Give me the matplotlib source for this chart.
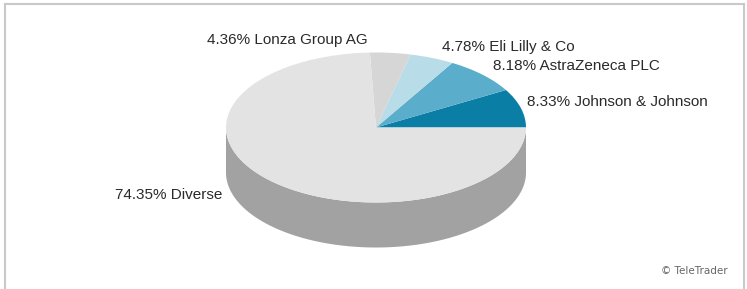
import numpy as np
import matplotlib
matplotlib.use("Agg")
import matplotlib.pyplot as plt
from matplotlib.lines import Line2D

# ---- data ----
names = ["Johnson & Johnson", "AstraZeneca PLC", "Eli Lilly & Co", "Lonza Group AG", "Diverse"]
shares = [8.33, 8.18, 4.78, 4.36, 74.35]
colors = ["#0a7ea4", "#5aaecb", "#b9dde8", "#d6d6d6", "#e3e3e3"]
side_color = "#a2a2a2"

W, H = 747, 289
fig = plt.figure(figsize=(W / 100, H / 100), dpi=100)
ax = fig.add_axes([0, 0, 1, 1])

# pie geometry in pixels
cx, cy, rx, ry, depth = 376, 127.5, 150, 75, 45
d = depth / ry

# side (front rim) of the 3D pie: drawn for the visible lower half
t = np.linspace(np.pi, 2 * np.pi, 200)
xs = np.concatenate([np.cos(t), np.cos(t[::-1])])
ys = np.concatenate([np.sin(t) - d, np.sin(t[::-1])])
ax.fill(xs, ys, color=side_color, lw=0, zorder=1)

# top face
wedges, _ = ax.pie(shares, colors=colors, startangle=0, counterclock=True,
                   wedgeprops=dict(linewidth=0), radius=1)
for w in wedges:
    w.set_zorder(2)

ax.set_aspect("auto")
ax.set_xlim(-cx / rx, (W - cx) / rx)
ax.set_ylim((cy - H) / ry, cy / ry)
ax.axis("off")

def px(x, y):
    return (x - cx) / rx, (cy - y) / ry

label_pos = {
    "Johnson & Johnson": (527, 102, "left"),
    "AstraZeneca PLC": (493, 66, "left"),
    "Eli Lilly & Co": (442, 47, "left"),
    "Lonza Group AG": (207, 40, "left"),
    "Diverse": (222, 195, "right"),
}
for n, s in zip(names, shares):
    x, y, ha = label_pos[n]
    ax.text(*px(x, y), f"{s:.2f}% {n}", ha=ha, va="center", fontsize=11,
            color="#2a2a2a", family="Liberation Sans", zorder=5)

ax.text(*px(728, 271), "© TeleTrader", ha="right", va="center", fontsize=7.5,
        color="#666666", family="DejaVu Sans")

# frame (left, top, right)
fr = "#c9c9c9"
fig.add_artist(Line2D([5 / W, 5 / W], [0, 1 - 4 / H], color=fr, lw=1.5, transform=fig.transFigure))
fig.add_artist(Line2D([5 / W, 744 / W], [1 - 4 / H, 1 - 4 / H], color=fr, lw=1.5, transform=fig.transFigure))
fig.add_artist(Line2D([744 / W, 744 / W], [0, 1 - 4 / H], color=fr, lw=1.5, transform=fig.transFigure))

fig.savefig("out.png", dpi=100)
